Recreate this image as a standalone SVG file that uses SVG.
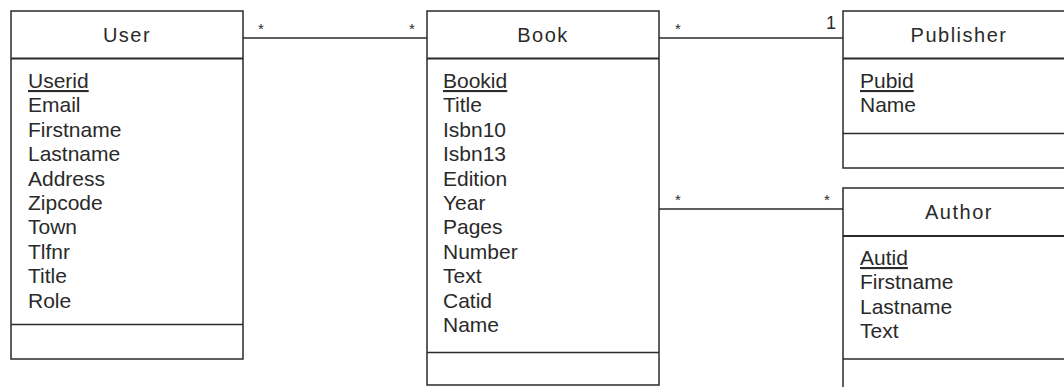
<svg xmlns="http://www.w3.org/2000/svg" width="1064" height="387" viewBox="0 0 1064 387">
<style>
.box{fill:#fff;stroke:#2a2a2a;stroke-width:1.5}
.sep{stroke:#2a2a2a;stroke-width:2}
.sep2{stroke:#2a2a2a;stroke-width:1.5}
.hdr{font-family:"Liberation Sans",Arial,sans-serif;font-size:20px;fill:#2a2a2a;text-anchor:middle;letter-spacing:1.5px}
.att{font-family:"Liberation Sans",Arial,sans-serif;font-size:21px;fill:#2a2a2a}
.key{text-decoration:underline}
.mul{font-family:"Liberation Sans",Arial,sans-serif;font-size:15px;fill:#2a2a2a;text-anchor:middle}
.one{font-size:18px}
.conn{stroke:#2a2a2a;stroke-width:1.5;fill:none}
</style>
<rect width="1064" height="387" fill="#fff"/>
<g id="connectors">
<line class="conn" x1="243" y1="38" x2="427" y2="38"/>
<line class="conn" x1="659" y1="38" x2="843" y2="38"/>
<line class="conn" x1="659" y1="209" x2="843" y2="209"/>
<text class="mul" x="261" y="34">*</text>
<text class="mul" x="412" y="34">*</text>
<text class="mul" x="678" y="34">*</text>
<text class="mul one" x="831" y="29">1</text>
<text class="mul" x="678" y="205">*</text>
<text class="mul" x="827" y="205">*</text>
</g>
<g id="User">
<rect class="box" x="11" y="11" width="232" height="348"/>
<line class="sep" x1="11" y1="58.5" x2="243" y2="58.5"/>
<line class="sep2" x1="11" y1="324.5" x2="243" y2="324.5"/>
<text class="hdr" x="127" y="42">User</text>
<text class="att" x="28" y="88"><tspan class="key">Userid</tspan><tspan x="28" dy="24.4">Email</tspan><tspan x="28" dy="24.4">Firstname</tspan><tspan x="28" dy="24.4">Lastname</tspan><tspan x="28" dy="24.4">Address</tspan><tspan x="28" dy="24.4">Zipcode</tspan><tspan x="28" dy="24.4">Town</tspan><tspan x="28" dy="24.4">Tlfnr</tspan><tspan x="28" dy="24.4">Title</tspan><tspan x="28" dy="24.4">Role</tspan></text>
</g>
<g id="Book">
<rect class="box" x="427" y="11" width="232" height="374"/>
<line class="sep" x1="427" y1="58.5" x2="659" y2="58.5"/>
<line class="sep2" x1="427" y1="352.5" x2="659" y2="352.5"/>
<text class="hdr" x="543" y="42">Book</text>
<text class="att" x="443" y="88"><tspan class="key">Bookid</tspan><tspan x="443" dy="24.4">Title</tspan><tspan x="443" dy="24.4">Isbn10</tspan><tspan x="443" dy="24.4">Isbn13</tspan><tspan x="443" dy="24.4">Edition</tspan><tspan x="443" dy="24.4">Year</tspan><tspan x="443" dy="24.4">Pages</tspan><tspan x="443" dy="24.4">Number</tspan><tspan x="443" dy="24.4">Text</tspan><tspan x="443" dy="24.4">Catid</tspan><tspan x="443" dy="24.4">Name</tspan></text>
</g>
<g id="Publisher">
<rect class="box" x="843" y="11" width="232" height="157"/>
<line class="sep" x1="843" y1="58.5" x2="1075" y2="58.5"/>
<line class="sep2" x1="843" y1="133.5" x2="1075" y2="133.5"/>
<text class="hdr" x="959" y="42">Publisher</text>
<text class="att" x="860" y="88"><tspan class="key">Pubid</tspan><tspan x="860" dy="24.4">Name</tspan></text>
</g>
<g id="Author">
<rect class="box" x="843" y="188" width="232" height="220"/>
<line class="sep" x1="843" y1="236" x2="1075" y2="236"/>
<line class="sep2" x1="843" y1="359" x2="1075" y2="359"/>
<text class="hdr" x="959" y="219">Author</text>
<text class="att" x="860" y="265"><tspan class="key">Autid</tspan><tspan x="860" dy="24.4">Firstname</tspan><tspan x="860" dy="24.4">Lastname</tspan><tspan x="860" dy="24.4">Text</tspan></text>
</g>
</svg>
